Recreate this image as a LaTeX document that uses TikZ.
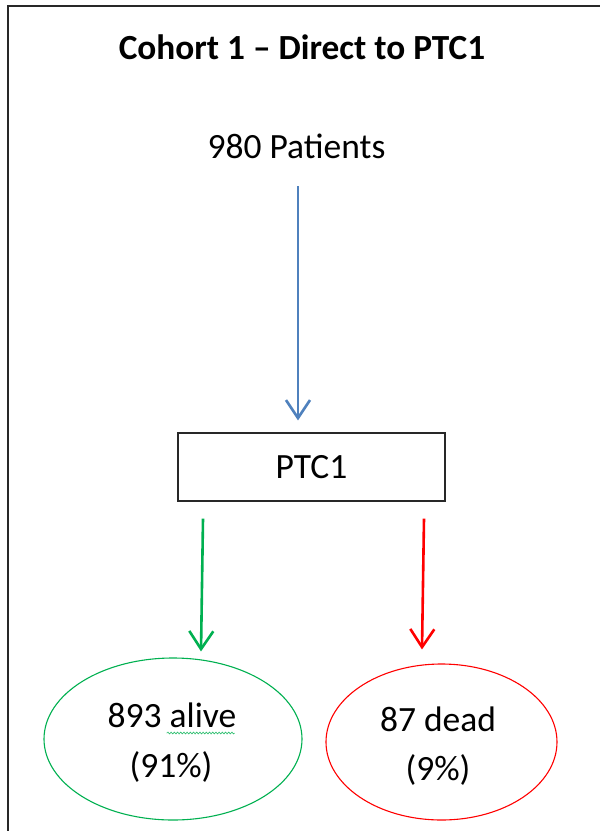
\documentclass[tikz,border=0pt]{standalone}
\usepackage{fontspec}
\setmainfont{Carlito}
\usetikzlibrary{arrows.meta,shapes.geometric,decorations.pathmorphing}
\definecolor{oblue}{RGB}{79,129,189}
\definecolor{ogreen}{RGB}{0,176,80}
\definecolor{ored}{RGB}{255,0,0}
\definecolor{frame}{RGB}{40,40,40}
\tikzset{
  txt/.style={anchor=base, inner sep=0pt, font=\fontsize{35.5}{42}\selectfont},
  ttl/.style={anchor=base, inner sep=0pt, font=\fontsize{35.3}{42}\selectfont\bfseries},
  flowarrow/.style={line width=2.6pt, -{Straight Barb[length=18pt,width=24pt,line width=2.6pt]}},
  boxstyle/.style={draw=frame, line width=1.2pt, minimum width=267pt, minimum height=68pt, inner sep=0pt, font=\fontsize{35.5}{42}\selectfont},
  oval/.style={ellipse, line width=1.1pt, inner sep=0pt},
}
\begin{document}
\begin{tikzpicture}[x=1pt,y=-1pt]
\useasboundingbox (0,0) rectangle (600,831);
\draw[frame, line width=1.6pt] (8,831) -- (8,6) -- (600,6);
\node[ttl] (title) at (302,59) {Cohort 1 – Direct to PTC1};
\node[txt] (patients) at (296.5,158) {980 Patients};
\node[boxstyle] (box) at (311.5,467) {PTC1};
\node[oval, draw=ogreen, minimum width=258pt, minimum height=162pt] (alive) at (173,739) {};
\node[oval, draw=ored, minimum width=231pt, minimum height=156pt] (dead) at (441.5,742) {};
\node[txt] (alivetxt) at (172,727) {893 alive};
\node[txt] (alivepct) at (171,777) {(91\%)};
\node[txt] (deadtxt) at (438,731) {87 dead};
\node[txt] (deadpct) at (438,780) {(9\%)};
\draw[decorate, decoration={snake, amplitude=0.9pt, segment length=3.2pt}, ogreen!80, line width=0.7pt]
  ([xshift=-2pt,yshift=-6pt]alivetxt.base east) -- ([xshift=-70pt,yshift=-6pt]alivetxt.base east);
\draw[oblue, flowarrow, line width=2.9pt] ([xshift=1.5pt,yshift=-28pt]patients.south) -- ([xshift=1.5pt,yshift=12pt]patients.south |- box.north);
\draw[ogreen, flowarrow] ([xshift=-108.5pt,yshift=-17pt]box.south) -- ([xshift=28pt,yshift=6pt]alive.north);
\draw[ored, flowarrow] ([xshift=112.5pt,yshift=-17pt]box.south) -- ([xshift=-19.5pt,yshift=14pt]dead.north);
\end{tikzpicture}
\end{document}
